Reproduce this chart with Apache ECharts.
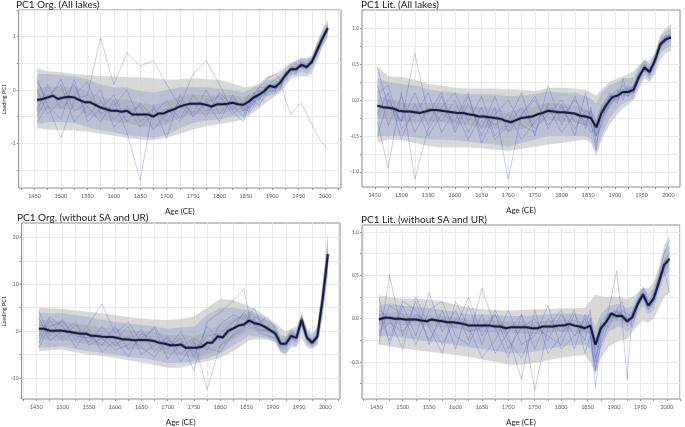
<!DOCTYPE html>
<html>
<head>
<meta charset="utf-8">
<script src="https://cdn.jsdelivr.net/npm/echarts@6/dist/echarts.min.js"></script>
<style>
html,body{margin:0;padding:0;background:#fff;}
#chart{width:685px;height:427px;}
</style>
</head>
<body>
<div id="chart"></div>
<script>
// ---------- DATA ----------
const MEAN_X = [1455,1465,1475,1485,1495,1505,1515,1525,1535,1545,1555,1565,1575,1585,1595,1605,1615,1625,1635,1645,1655,1665,1675,1685,1695,1705,1715,1725,1735,1745,1755,1765,1775,1785,1795,1805,1815,1825,1835,1845,1855,1865,1875,1885,1895,1905,1915,1925,1935,1945,1955,1965,1975,1985,1995,2005];
const BAND_X = [1455,1475,1500,1525,1550,1575,1600,1625,1650,1675,1700,1725,1750,1775,1800,1825,1845,1855,1865,1875,1890,1905,1915,1925,1935,1945,1955,1965,1975,1985,1995,2005];
const X_LABELS = [1450,1500,1550,1600,1650,1700,1750,1800,1850,1900,1950,2000];
const X_GRID = [1425,1450,1475,1500,1525,1550,1575,1600,1625,1650,1675,1700,1725,1750,1775,1800,1825,1850,1875,1900,1925,1950,1975,2000,2025];

const TITLES = ["PC1 Org. (All lakes)","PC1 Lit. (All lakes)","PC1 Org. (without SA and UR)","PC1 Lit. (without SA and UR)"];

// Panel 1: PC1 Org. (All lakes)
const orgAllMean = [-0.19,-0.17,-0.14,-0.11,-0.17,-0.14,-0.13,-0.14,-0.19,-0.23,-0.23,-0.28,-0.33,-0.36,-0.39,-0.39,-0.41,-0.39,-0.46,-0.46,-0.46,-0.46,-0.50,-0.44,-0.44,-0.39,-0.36,-0.31,-0.28,-0.26,-0.26,-0.26,-0.28,-0.31,-0.27,-0.27,-0.26,-0.24,-0.27,-0.28,-0.22,-0.14,-0.09,-0.02,0.08,0.05,0.14,0.28,0.39,0.39,0.47,0.43,0.53,0.75,0.97,1.16];
const orgAllOuterHi = [0.40,0.35,0.33,0.30,0.28,0.26,0.25,0.24,0.24,0.22,0.19,0.20,0.22,0.20,0.19,0.12,0.06,0.06,0.08,0.12,0.25,0.30,0.36,0.44,0.50,0.55,0.60,0.60,0.65,0.90,1.15,1.32];
const orgAllOuterLo = [-0.72,-0.74,-0.75,-0.76,-0.78,-0.82,-0.86,-0.90,-0.93,-0.94,-0.90,-0.82,-0.74,-0.68,-0.64,-0.60,-0.55,-0.50,-0.42,-0.35,-0.22,-0.12,-0.05,0.08,0.20,0.25,0.25,0.25,0.30,0.55,0.80,0.98];
const orgAllInnerHi = [0.03,0.06,0.06,0.06,-0.02,-0.12,-0.18,-0.18,-0.24,-0.28,-0.22,-0.12,-0.08,-0.10,-0.10,-0.09,-0.14,-0.10,-0.04,0.00,0.10,0.12,0.20,0.34,0.45,0.45,0.53,0.50,0.60,0.84,1.05,1.24];
const orgAllInnerLo = [-0.42,-0.36,-0.36,-0.36,-0.45,-0.55,-0.60,-0.62,-0.68,-0.72,-0.64,-0.52,-0.46,-0.46,-0.45,-0.40,-0.42,-0.35,-0.26,-0.18,-0.05,-0.02,0.07,0.22,0.33,0.33,0.41,0.37,0.46,0.66,0.88,1.08];
const orgAllBlueHi = [0.30,0.30,0.28,0.25,0.20,0.10,0.05,0.05,-0.02,-0.05,0.00,0.05,0.05,0.05,0.02,0.00,-0.05,0.00,0.05,0.08,0.18,0.20,0.28,0.40,0.50,0.55,0.60,0.58,0.62,0.90,1.12,1.28];
const orgAllBlueLo = [-0.65,-0.60,-0.60,-0.62,-0.70,-0.75,-0.80,-0.85,-0.88,-0.90,-0.85,-0.72,-0.62,-0.58,-0.55,-0.50,-0.50,-0.45,-0.35,-0.28,-0.12,-0.08,0.00,0.15,0.27,0.28,0.35,0.30,0.40,0.60,0.82,1.00];
const orgAllLine1 = [0.2,-0.3,-0.9,-0.2,-0.1,0.98,0.1,0.7,0.45,0.55,0.1,-0.3,0.3,0.55,0.1,-0.4,-0.6,-0.3,-0.1,0.05,0.2,0.3,0.2,-0.2,-0.45,-0.35,-0.25,-0.45,-0.65,-0.85,-1.0,-1.12];
const orgAllLine2 = [-0.5,-0.1,0.1,-0.6,-0.3,-0.6,-0.2,-0.8,-1.7,-0.3,-0.9,-0.1,-0.5,-0.2,-0.6,-0.1,-0.4,-0.2,-0.3,0.0,-0.1,0.15,0.05,0.3,0.35,0.5,0.4,0.45,0.5,0.8,1.0,1.2];
const orgAllLine3 = [0.0,-0.45,-0.2,0.1,-0.5,-0.2,-0.55,-0.3,-0.7,-0.45,-0.2,-0.55,-0.1,-0.4,-0.25,-0.35,-0.2,-0.35,-0.05,-0.2,0.1,-0.05,0.2,0.25,0.45,0.35,0.5,0.4,0.6,0.7,0.95,1.1];
const orgAllLine4 = [-0.4,0.1,-0.35,-0.1,0.15,-0.45,-0.3,0.0,-0.6,-0.35,-0.6,-0.2,-0.45,0.0,-0.45,-0.15,-0.35,-0.4,-0.2,-0.3,0.0,0.1,0.0,0.35,0.3,0.45,0.45,0.4,0.55,0.75,1.0,1.15];
const orgAllLine5 = [0.15,-0.2,0.2,-0.4,-0.25,0.0,-0.7,-0.45,-0.3,-0.75,-0.45,-0.3,-0.5,-0.25,-0.1,-0.45,-0.3,-0.1,-0.25,0.05,0.05,0.2,0.1,0.2,0.4,0.3,0.55,0.45,0.5,0.8,0.95,1.2];
const orgAllLine6 = [-0.6,-0.3,-0.55,0.2,-0.6,-0.35,-0.1,-0.6,-0.25,-0.5,-0.35,-0.6,-0.25,-0.5,-0.05,-0.3,-0.5,-0.25,-0.15,-0.15,-0.05,0.0,0.15,0.3,0.4,0.4,0.45,0.5,0.5,0.72,0.98,1.15];

// Panel 2: PC1 Lit. (All lakes)
const litAllMean = [-0.08,-0.10,-0.11,-0.12,-0.15,-0.16,-0.16,-0.17,-0.18,-0.16,-0.14,-0.14,-0.15,-0.16,-0.17,-0.18,-0.18,-0.20,-0.21,-0.23,-0.23,-0.24,-0.25,-0.26,-0.29,-0.31,-0.28,-0.25,-0.24,-0.23,-0.20,-0.18,-0.15,-0.16,-0.17,-0.17,-0.18,-0.19,-0.22,-0.23,-0.25,-0.38,-0.18,-0.06,0.04,0.06,0.11,0.11,0.14,0.32,0.45,0.39,0.55,0.77,0.84,0.87];
const litAllOuterHi = [0.46,0.33,0.32,0.28,0.22,0.20,0.17,0.16,0.16,0.16,0.15,0.14,0.12,0.17,0.17,0.16,0.14,0.10,0.06,0.15,0.25,0.30,0.33,0.36,0.40,0.48,0.55,0.55,0.65,0.90,1.00,1.05];
const litAllOuterLo = [-0.60,-0.55,-0.56,-0.60,-0.64,-0.66,-0.66,-0.66,-0.67,-0.69,-0.71,-0.68,-0.65,-0.62,-0.60,-0.57,-0.55,-0.60,-0.78,-0.55,-0.35,-0.20,-0.12,-0.06,0.00,0.15,0.30,0.25,0.35,0.55,0.65,0.68];
const litAllInnerHi = [0.05,0.02,-0.04,-0.05,-0.04,-0.04,-0.07,-0.08,-0.10,-0.12,-0.17,-0.12,-0.10,-0.04,-0.06,-0.08,-0.12,-0.15,-0.26,-0.08,0.07,0.13,0.17,0.17,0.20,0.38,0.50,0.44,0.60,0.82,0.90,0.93];
const litAllInnerLo = [-0.25,-0.27,-0.30,-0.31,-0.30,-0.30,-0.33,-0.35,-0.38,-0.40,-0.44,-0.40,-0.36,-0.28,-0.30,-0.31,-0.35,-0.38,-0.52,-0.30,-0.08,-0.01,0.05,0.05,0.08,0.26,0.39,0.33,0.50,0.71,0.78,0.81];
const litAllBlueHi = [0.30,0.25,0.22,0.20,0.15,0.12,0.10,0.08,0.08,0.08,0.05,0.06,0.08,0.12,0.10,0.10,0.05,0.02,-0.05,0.10,0.20,0.25,0.30,0.30,0.32,0.45,0.55,0.50,0.65,0.88,0.95,1.00];
const litAllBlueLo = [-0.50,-0.50,-0.50,-0.52,-0.55,-0.55,-0.56,-0.58,-0.60,-0.62,-0.65,-0.60,-0.55,-0.50,-0.50,-0.50,-0.50,-0.55,-0.72,-0.50,-0.25,-0.12,-0.05,-0.02,0.02,0.20,0.35,0.28,0.42,0.65,0.72,0.75];
const litAllLine1 = [0.45,-0.1,-0.3,0.65,-0.2,0.1,-0.4,0.05,-0.5,-0.1,-1.1,-0.2,0.05,-0.4,-0.05,-0.5,0.1,-0.3,-0.7,-0.1,0.1,-0.05,0.3,0.05,0.2,0.4,0.55,0.35,0.6,0.8,0.9,0.85];
const litAllLine2 = [-0.3,-0.95,0.1,-1.1,-0.4,-0.1,0.1,-0.3,0.05,-0.5,-0.3,0.1,-0.5,0.2,-0.35,0.05,-0.4,-0.1,-0.6,-0.3,0.05,0.15,0.0,0.2,0.1,0.3,0.42,0.45,0.5,0.75,0.88,0.9];
const litAllLine3 = [0.1,0.2,-0.4,-0.2,0.1,-0.45,-0.15,-0.55,-0.2,-0.35,-0.2,-0.55,-0.3,-0.1,-0.45,-0.2,-0.3,-0.45,-0.4,-0.25,-0.1,0.1,0.2,0.15,0.1,0.28,0.48,0.38,0.55,0.72,0.82,0.95];
const litAllLine4 = [-0.5,0.0,-0.3,0.1,-0.35,0.05,-0.45,-0.05,-0.4,0.05,-0.45,-0.2,0.0,-0.35,-0.1,-0.4,-0.15,-0.2,-0.5,-0.15,0.05,0.0,0.15,0.1,0.2,0.35,0.4,0.4,0.55,0.8,0.85,0.9];
const litAllLine5 = [0.2,-0.35,0.05,-0.45,-0.1,-0.3,0.0,-0.45,-0.1,-0.55,-0.35,-0.1,-0.4,-0.2,0.0,-0.3,-0.35,-0.15,-0.3,-0.1,0.0,0.1,0.05,0.15,0.2,0.3,0.5,0.35,0.5,0.78,0.82,0.88];
const litAllLine6 = [-0.2,0.1,-0.55,-0.05,-0.5,-0.2,-0.3,0.1,-0.6,-0.2,0.0,-0.35,-0.45,-0.05,-0.25,0.0,-0.2,-0.35,-0.5,-0.35,-0.05,0.05,0.1,0.05,0.15,0.3,0.45,0.42,0.58,0.75,0.86,0.85];

// Panel 3: PC1 Org. (without SA and UR)
const orgNoMean = [0.5,0.5,0.1,0.1,0.15,0.0,-0.2,-0.4,-0.55,-0.55,-1.0,-1.05,-1.2,-1.25,-1.25,-1.45,-1.75,-1.8,-1.95,-1.9,-1.9,-1.95,-2.15,-2.5,-2.7,-3.0,-3.0,-2.85,-3.55,-3.55,-3.55,-3.35,-2.5,-2.45,-1.1,-1.35,0.05,0.6,1.2,1.4,2.25,1.7,1.45,0.9,0.2,-0.5,-2.7,-2.7,-1.0,-1.45,2.4,-1.35,-2.5,-1.1,6.9,16.4];
const orgNoOuterHi = [5.0,4.9,4.8,4.4,4.1,3.8,3.4,3.0,2.7,2.5,2.4,2.6,3.1,5.0,6.9,6.6,5.8,5.3,4.8,4.1,2.8,1.7,0.8,0.0,0.5,1.0,3.5,0.8,-0.5,1.0,10.0,21.0];
const orgNoOuterLo = [-4.3,-4.1,-3.9,-4.5,-5.0,-5.3,-5.7,-6.2,-6.7,-7.2,-7.8,-7.8,-7.0,-6.4,-5.7,-4.3,-2.8,-2.0,-1.8,-1.8,-1.8,-2.3,-4.5,-5.0,-3.5,-3.5,-1.5,-3.5,-3.8,-3.0,3.0,11.8];
const orgNoInnerHi = [2.5,2.2,2.1,1.6,1.2,0.8,0.6,0.2,0.0,-0.2,-0.8,-0.7,-1.2,0.0,1.4,2.8,3.4,4.1,3.5,3.2,2.2,1.0,-1.5,-1.5,-0.2,-0.5,3.2,-0.6,-1.8,-0.2,8.5,18.5];
const orgNoInnerLo = [-1.5,-2.0,-1.9,-2.4,-2.8,-3.2,-3.3,-3.8,-3.9,-4.1,-4.9,-5.0,-5.9,-5.0,-3.8,-1.6,-0.6,0.4,0.0,-0.2,-1.1,-2.0,-3.9,-3.9,-1.8,-2.4,1.6,-2.1,-3.2,-2.0,5.3,14.3];
const orgNoBlueHi = [4.0,3.8,3.8,3.4,3.0,2.5,2.0,1.6,1.3,1.0,0.5,0.8,1.0,3.5,5.0,5.0,4.6,4.5,4.0,3.5,2.5,1.3,-0.8,-1.0,0.3,0.2,4.0,0.2,-1.0,0.8,10.0,20.5];
const orgNoBlueLo = [-3.5,-3.5,-3.2,-3.8,-4.3,-4.6,-5.0,-5.5,-5.8,-6.2,-6.8,-6.8,-6.5,-5.8,-4.8,-3.0,-1.8,-0.8,-1.2,-1.2,-1.6,-2.5,-4.5,-4.8,-2.8,-3.2,0.8,-2.8,-3.6,-2.8,3.8,12.5];
const orgNoLine1 = [4.3,-1.0,2.5,-2.0,1.5,5.8,-0.5,2.0,-2.5,1.0,-3.5,-1.5,-8.5,2.0,4.0,6.5,9.0,3.5,5.0,2.0,3.0,0.5,-2.0,-1.5,0.0,-1.0,3.5,-1.0,-2.0,-0.5,7.5,17.0];
const orgNoLine2 = [-2.5,2.5,-1.5,1.5,-3.0,-1.5,-4.0,-3.0,0.5,-4.5,-1.0,-5.0,-2.0,-12.5,-3.0,-1.0,0.5,3.5,1.0,-0.5,-1.0,-1.5,-3.5,-2.5,-1.5,-2.0,1.5,-2.0,-3.0,-1.5,6.0,15.5];
const orgNoLine3 = [1.5,0.5,-2.0,0.0,-1.0,-3.0,1.0,-4.0,-1.5,0.5,-6.0,-2.5,-4.5,-1.0,-0.5,2.0,3.5,1.5,2.5,0.5,0.0,-0.5,-2.5,-3.0,-1.0,-1.5,3.0,-1.5,-2.5,-1.0,7.0,16.0];
const orgNoLine4 = [-1.0,3.0,1.0,-3.5,0.5,-4.5,-2.0,1.0,-5.0,-3.0,-1.5,-6.5,-2.5,-4.0,1.5,3.5,2.5,1.0,3.0,2.5,0.5,-1.0,-3.0,-2.0,-0.5,-1.5,2.5,-1.5,-2.5,-1.0,6.5,16.0];
const orgNoLine5 = [3.0,-2.0,0.0,2.0,-2.5,1.0,-2.0,-5.5,-0.5,-2.0,-4.0,0.0,-5.5,1.0,-2.0,0.5,4.0,2.5,2.0,1.5,1.0,-0.5,-2.5,-3.5,-1.0,-1.0,2.0,-1.0,-2.0,-1.5,7.0,16.5];
const orgNoLine6 = [-3.5,1.0,2.0,-1.0,-1.5,-0.5,-3.0,-1.0,-3.5,-5.5,-2.0,-3.5,-1.5,-3.5,-4.5,-0.5,1.0,3.0,1.5,0.0,0.5,0.0,-3.0,-2.5,-1.5,-1.5,2.8,-1.8,-2.8,-1.2,6.8,15.8];

// Panel 4: PC1 Lit. (without SA and UR)
const litNoMean = [-0.01,0.01,0.01,0.0,0.0,-0.01,-0.01,-0.01,-0.02,-0.03,-0.01,-0.02,-0.03,-0.04,-0.04,-0.05,-0.06,-0.08,-0.08,-0.08,-0.08,-0.08,-0.09,-0.09,-0.11,-0.10,-0.10,-0.10,-0.10,-0.11,-0.11,-0.09,-0.09,-0.09,-0.08,-0.08,-0.06,-0.08,-0.09,-0.11,-0.08,-0.30,-0.11,-0.04,0.06,0.03,0.03,-0.03,0.02,0.17,0.28,0.15,0.23,0.42,0.62,0.69];
const litNoOuterHi = [0.27,0.25,0.23,0.23,0.22,0.20,0.16,0.13,0.11,0.10,0.09,0.10,0.11,0.11,0.12,0.12,0.13,0.20,0.28,0.26,0.25,0.25,0.24,0.23,0.25,0.30,0.35,0.35,0.42,0.60,0.85,0.95];
const litNoOuterLo = [-0.30,-0.32,-0.34,-0.36,-0.38,-0.40,-0.42,-0.44,-0.47,-0.50,-0.53,-0.53,-0.51,-0.48,-0.45,-0.43,-0.42,-0.50,-0.64,-0.45,-0.32,-0.27,-0.25,-0.23,-0.15,-0.08,-0.02,-0.05,0.00,0.12,0.25,0.30];
const litNoInnerHi = [0.06,0.07,0.06,0.05,0.04,0.03,0.02,-0.01,-0.01,-0.02,-0.03,-0.03,-0.04,-0.02,-0.01,-0.01,-0.04,-0.01,-0.20,-0.03,0.07,0.09,0.09,0.03,0.07,0.22,0.33,0.20,0.29,0.49,0.69,0.76];
const litNoInnerLo = [-0.08,-0.06,-0.07,-0.08,-0.09,-0.10,-0.11,-0.15,-0.15,-0.16,-0.17,-0.17,-0.18,-0.16,-0.15,-0.15,-0.18,-0.15,-0.40,-0.19,-0.05,-0.03,-0.03,-0.09,-0.03,0.12,0.23,0.10,0.17,0.35,0.55,0.62];
const litNoBlueHi = [0.15,0.18,0.15,0.14,0.12,0.10,0.08,0.05,0.05,0.04,0.03,0.03,0.04,0.05,0.06,0.06,0.04,0.05,-0.10,0.05,0.15,0.17,0.16,0.12,0.15,0.28,0.38,0.28,0.36,0.55,0.78,0.85];
const litNoBlueLo = [-0.20,-0.20,-0.22,-0.24,-0.26,-0.28,-0.30,-0.33,-0.35,-0.37,-0.40,-0.40,-0.38,-0.35,-0.32,-0.30,-0.30,-0.35,-0.58,-0.35,-0.15,-0.10,-0.10,-0.15,-0.08,0.05,0.15,0.05,0.10,0.30,0.48,0.55];
const litNoLine1 = [0.25,-0.3,0.15,-0.2,0.3,-0.15,0.1,-0.25,0.35,-0.1,-0.45,0.05,-0.83,-0.1,0.1,-0.35,0.05,-0.1,-0.8,-0.2,0.1,0.55,0.0,-0.7,0.1,0.2,0.35,0.2,0.3,0.5,0.75,0.9];
const litNoLine2 = [-0.3,0.5,-0.2,0.2,-0.3,0.1,-0.35,0.15,-0.3,0.1,-0.2,-0.7,0.1,-0.4,-0.2,0.1,-0.4,-0.2,-0.6,-0.05,-0.1,0.1,0.2,0.0,-0.1,0.15,0.25,0.1,0.2,0.4,0.55,0.3];
const litNoLine3 = [0.1,0.0,-0.35,0.25,-0.1,-0.4,0.2,-0.1,-0.45,-0.25,0.1,-0.3,-0.2,0.15,-0.35,-0.2,-0.1,0.1,-0.45,-0.25,0.05,0.0,0.1,0.05,0.05,0.2,0.3,0.15,0.25,0.45,0.65,0.75];
const litNoLine4 = [-0.2,0.15,0.05,-0.3,0.1,0.2,-0.2,-0.3,0.05,-0.4,-0.15,0.05,-0.35,0.0,-0.15,-0.05,-0.25,0.0,-0.5,-0.1,0.0,0.05,0.05,-0.05,0.05,0.15,0.3,0.15,0.25,0.45,0.6,0.7];
const litNoLine5 = [0.05,-0.25,0.2,0.1,-0.25,0.0,-0.1,0.25,-0.2,0.05,-0.35,-0.1,0.0,-0.25,0.05,-0.2,0.0,-0.2,-0.35,-0.15,0.05,0.1,0.0,-0.05,0.0,0.2,0.28,0.15,0.22,0.4,0.6,0.7];
const litNoLine6 = [-0.15,-0.05,-0.15,0.05,-0.05,-0.3,0.0,-0.15,-0.1,0.05,-0.25,-0.45,-0.1,-0.2,-0.3,0.05,-0.15,-0.15,-0.6,-0.3,-0.05,0.08,0.05,0.0,0.0,0.18,0.25,0.12,0.25,0.42,0.62,0.65];

// y ticks per panel (labels) and gridlines (major + minor)
const Y_LABELS = [[-1,0,1],[-1,-0.5,0,0.5,1],[-10,0,10,20],[-0.5,0,0.5,1]];
const Y_GRID = [[-1.5,-1,-0.5,0,0.5,1,1.5],[-1,-0.75,-0.5,-0.25,0,0.25,0.5,0.75,1],[-10,-5,0,5,10,15,20],[-0.75,-0.5,-0.25,0,0.25,0.5,0.75,1]];

// ---------- LAYOUT / STYLE ----------
const GRIDS = [
  {left:17, top:10, width:324, height:178, xr:[1420,2030], yr:[-1.84,1.5], dec:0, yname:'Loading PC1'},
  {left:362, top:10, width:318, height:177, xr:[1426,2022], yr:[-1.21,1.25], dec:1, yname:''},
  {left:18, top:223, width:322, height:179, xr:[1422,2028], yr:[-14.47,23.06], dec:0, yname:'Loading PC1'},
  {left:362, top:225, width:318, height:177, xr:[1423,2025], yr:[-0.926,1.08], dec:1, yname:''}
];
const PANELS = [
  {mean:orgAllMean, oh:orgAllOuterHi, ol:orgAllOuterLo, ih:orgAllInnerHi, il:orgAllInnerLo, bh:orgAllBlueHi, bl:orgAllBlueLo, lines:[orgAllLine1,orgAllLine2,orgAllLine3,orgAllLine4,orgAllLine5,orgAllLine6]},
  {mean:litAllMean, oh:litAllOuterHi, ol:litAllOuterLo, ih:litAllInnerHi, il:litAllInnerLo, bh:litAllBlueHi, bl:litAllBlueLo, lines:[litAllLine1,litAllLine2,litAllLine3,litAllLine4,litAllLine5,litAllLine6]},
  {mean:orgNoMean, oh:orgNoOuterHi, ol:orgNoOuterLo, ih:orgNoInnerHi, il:orgNoInnerLo, bh:orgNoBlueHi, bl:orgNoBlueLo, lines:[orgNoLine1,orgNoLine2,orgNoLine3,orgNoLine4,orgNoLine5,orgNoLine6]},
  {mean:litNoMean, oh:litNoOuterHi, ol:litNoOuterLo, ih:litNoInnerHi, il:litNoInnerLo, bh:litNoBlueHi, bl:litNoBlueLo, lines:[litNoLine1,litNoLine2,litNoLine3,litNoLine4,litNoLine5,litNoLine6]}
];
const FONT = 'Lato, "Liberation Sans", sans-serif';

function band(i, lo, hi, fill, z) {
  return {
    type:'custom', xAxisIndex:i, yAxisIndex:i, z:z, silent:true, clip:true,
    data: BAND_X.map((x,k)=>[x, lo[k], hi[k]]),
    encode:{x:0, y:[1,2]},
    renderItem: function(params, api) {
      if (params.dataIndex !== 0) return;
      const top = BAND_X.map((x,k)=>api.coord([x, hi[k]]));
      const bot = BAND_X.map((x,k)=>api.coord([x, lo[k]])).reverse();
      return {type:'polygon', shape:{points: top.concat(bot)}, style:{fill: fill}};
    }
  };
}

const grid = [], xAxis = [], yAxis = [], series = [], title = [];
GRIDS.forEach((g, i) => {
  grid.push({left:g.left, top:g.top, width:g.width, height:g.height, show:true, borderColor:'#8a8a8a', borderWidth:1, backgroundColor:'#fff'});
  title.push({text:TITLES[i], left:g.left - 1, top:g.top - 10, padding:0,
    textStyle:{fontSize:10, fontWeight:'normal', color:'#1a1a1a', fontFamily:FONT}});
  xAxis.push({type:'value', gridIndex:i, min:g.xr[0], max:g.xr[1],
    name:'Age (CE)', nameLocation:'middle', nameGap:19,
    nameTextStyle:{fontSize:8, color:'#1a1a1a', fontFamily:FONT},
    axisLine:{show:false, onZero:false},
    axisTick:{show:true, length:2, lineStyle:{color:'#666', width:0.7}, customValues:X_GRID},
    axisLabel:{fontSize:5.5, color:'#555', margin:5, fontFamily:FONT, customValues:X_LABELS,
      formatter:(v)=>String(v)},
    splitLine:{show:true, lineStyle:{color:'#e9e9e9', width:1}}
  });
  yAxis.push({type:'value', gridIndex:i, min:g.yr[0], max:g.yr[1],
    name:g.yname, nameLocation:'middle', nameGap:11,
    nameTextStyle:{fontSize:5.5, color:'#1a1a1a', fontFamily:FONT},
    axisLine:{show:false, onZero:false},
    axisTick:{show:true, length:2, lineStyle:{color:'#666', width:0.7}, customValues:Y_GRID[i]},
    axisLabel:{fontSize:5, color:'#555', margin:3, fontFamily:FONT, customValues:Y_LABELS[i],
      formatter: (v)=> g.dec ? v.toFixed(1) : String(v)},
    splitLine:{show:true, lineStyle:{color:'#e9e9e9', width:1}}
  });
});

PANELS.forEach((p, i) => {
  series.push(band(i, p.ol, p.oh, 'rgba(200,200,200,0.7)', 1));
  series.push(band(i, p.bl, p.bh, 'rgba(80,100,195,0.2)', 2));
  p.lines.forEach(arr => {
    series.push({type:'line', xAxisIndex:i, yAxisIndex:i, z:3, silent:true, showSymbol:false,
      data: BAND_X.map((x,k)=>[x, arr[k]]),
      lineStyle:{color:'rgba(70,90,200,0.4)', width:0.75}});
  });
  series.push(band(i, p.il, p.ih, 'rgba(110,110,125,0.15)', 4));
  series.push({type:'line', xAxisIndex:i, yAxisIndex:i, z:5, silent:true, showSymbol:false,
    data: MEAN_X.map((x,k)=>[x, p.mean[k]]),
    lineStyle:{color:'rgba(60,80,170,0.35)', width:3.5}});
  series.push({type:'line', xAxisIndex:i, yAxisIndex:i, z:6, silent:true, showSymbol:false,
    data: MEAN_X.map((x,k)=>[x, p.mean[k]]),
    lineStyle:{color:'#1a1d33', width:2}});
});

const chart = echarts.init(document.getElementById('chart'), null, {renderer:'canvas'});
chart.setOption({animation:false, backgroundColor:'#fff', title, grid, xAxis, yAxis, series});
</script>
</body>
</html>
